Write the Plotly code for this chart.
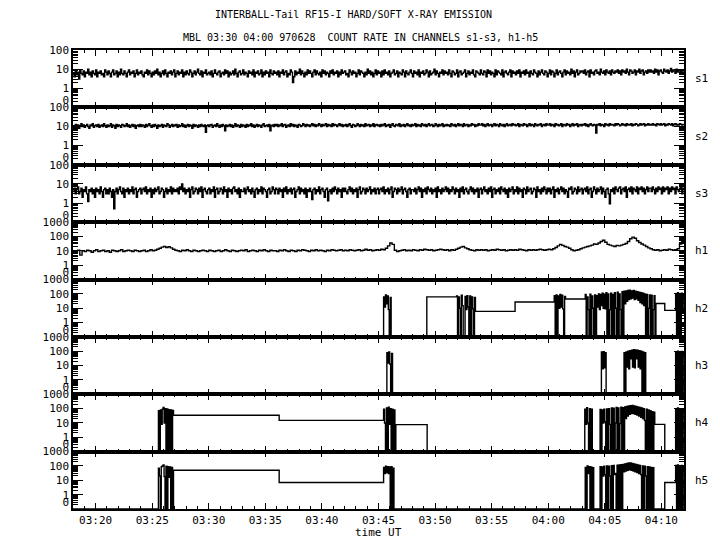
import numpy as np
import pandas as pd
import plotly.graph_objects as go
from plotly.subplots import make_subplots
from bisect import bisect_right

# ---------------- data (time in minutes after 03:00 UT, 1997-06-28) ----------------
T_START = 18.0
T_END = 72.0
SOFT_DT = 0.1          # cadence of s1-s3 samples (minutes)
H1_DT = 0.2            # cadence of h1 samples (minutes)
BURST_DT = 1.0 / 12.0  # cadence of samples inside h2-h5 bursts (minutes)

S1 = [6,4,8,5,7,3,9,6,5,8,4,7,6,10,5,7,4,8,6,5,9,4,7,6,8,5,6,4,9,7,
      5,8,6,4,7,9,5,6,8,4,7,5,10,6,5,8,6,4,7,9,5,7,6,8,4,6,9,5,7,6,
      8,5,4,7,6,9,5,8,6,4,7,5,8,6,10,5,7,4,6,8,5,9,6,4,7,6,8,5,7,9,
      4,6,8,5,7,6,9,4,7,5,8,6,5,9,7,4,6,8,5,7,10,6,5,8,4,7,6,9,5,6,
      7,5,8,4,6,9,6,5,7,8,4,6,7,5,9,6,8,4,7,5,6,8,5,10,6,4,7,8,5,6,
      9,5,7,6,4,8,6,7,5,9,4,7,6,8,5,6,9,4,7,5,8,6,7,4,9,6,5,8,6,7,
      5,8,4,7,6,9,5,7,8,4,6,5,9,7,2,4,8,5,7,6,10,5,8,6,4,7,5,9,6,8,
      6,4,7,9,5,8,6,5,7,4,9,6,8,5,7,6,4,8,6,9,5,7,6,8,4,7,5,9,6,7,
      8,5,6,4,9,7,5,8,6,7,4,6,9,5,8,7,6,4,7,5,10,6,8,5,7,4,6,9,5,8,
      6,7,4,8,5,9,6,7,5,8,4,6,7,9,5,6,8,4,7,6,5,9,7,4,8,6,5,7,9,6,
      4,8,6,7,5,9,4,7,6,8,5,6,9,7,4,8,5,6,7,10,5,8,6,4,7,6,9,5,8,6,
      7,5,9,6,4,8,7,5,6,9,4,7,8,5,6,7,9,4,6,8,5,7,6,9,5,4,8,7,6,5,
      9,6,5,8,7,4,9,6,8,5,7,6,4,9,5,8,7,6,5,9,4,7,8,6,5,7,9,4,8,6,
      7,5,8,6,9,4,7,6,8,5,9,6,7,4,8,6,5,9,7,6,4,8,5,7,9,6,5,8,7,4,
      6,9,5,8,7,4,6,9,5,7,8,6,4,7,9,5,8,6,7,5,10,6,8,4,7,9,5,6,8,7,
      8,6,9,5,7,8,4,9,6,7,5,8,9,6,7,5,10,7,6,8,5,9,7,6,8,5,9,7,6,8,
      7,9,6,8,5,9,7,8,6,10,7,5,9,8,6,7,9,5,8,7,10,6,8,9,5,7,8,6,9,7,
      9,7,8,6,10,7,9,5,8,9,7,6,10,8,7,9,6,8,11,7,9,8,6,10,7,9,8,6,9,8]

S2 = [11,9,13,10,12,8,11,14,10,12,9,11,13,10,8,12,11,14,9,11,12,10,13,9,11,12,10,14,11,9,
      12,10,11,14,9,12,11,8,13,10,12,11,9,13,12,10,11,14,10,12,9,11,13,10,12,8,11,12,10,13,
      10,12,11,9,13,10,12,14,11,9,12,10,13,11,8,12,10,11,13,9,12,11,10,14,12,9,11,13,10,12,
      11,13,9,12,10,11,14,10,12,9,11,13,10,12,11,8,13,10,12,11,9,12,10,13,11,10,12,5,11,12,
      10,12,13,9,11,12,10,14,11,9,12,10,13,11,6,12,10,11,13,10,12,9,11,14,10,12,11,9,13,10,
      12,11,9,13,10,12,11,14,10,12,9,11,13,10,12,11,9,12,14,10,11,12,10,13,6,11,12,10,13,11,
      13,10,12,11,14,10,12,13,9,11,12,10,14,11,13,10,12,11,9,13,12,10,11,14,12,10,13,11,12,10,
      12,14,11,13,10,12,11,14,12,10,13,11,12,14,10,13,11,12,10,14,11,13,12,10,12,14,11,13,10,12,
      11,13,10,12,14,11,9,13,12,10,11,14,12,10,13,11,12,10,14,11,12,13,10,12,11,14,10,12,13,11,
      12,10,13,11,12,14,10,12,11,13,9,12,14,11,10,13,12,11,14,10,12,11,13,10,12,14,11,12,10,13,
      11,12,14,10,13,11,12,10,14,12,11,13,10,12,14,11,12,13,10,11,14,12,10,13,11,12,14,10,12,11,
      13,11,12,10,14,12,11,13,10,12,14,11,13,12,10,14,11,12,13,10,12,11,14,12,13,10,12,11,14,12,
      12,14,11,13,10,12,14,11,12,13,10,12,14,11,13,12,10,14,12,11,13,10,12,14,11,12,13,11,14,12,
      13,11,12,14,10,13,12,11,14,12,13,10,12,14,11,13,12,10,14,12,11,13,12,14,10,12,13,11,14,12,
      12,14,11,13,12,10,14,12,13,11,12,14,10,13,12,11,14,12,13,10,12,14,11,13,12,14,10,12,13,11,
      13,12,14,11,13,10,12,14,12,11,13,12,4.5,13,12,14,11,13,12,10,14,12,13,11,14,12,13,12,11,14,
      12,14,13,11,12,14,12,13,11,14,12,13,12,14,11,13,12,14,13,11,12,14,12,13,14,11,13,12,14,12,
      13,12,14,12,13,11,14,13,12,14,12,13,14,11,13,12,14,13,12,14,11,13,14,12,13,12,14,13,12,13]

S3 = [4,6,3,5,7,3,4,6,2,5,4,7,3,1.2,5,4,6,3,5,2,6,4,5,3,7,4,2,5,6,3,
      5,3,6,4,2,5,0.5,4,6,3,5,7,4,3,6,2,5,4,6,3,5,4,7,3,5,6,2,4,5,6,
      3,5,6,4,7,3,5,4,6,2,5,3,6,4,5,7,3,4,6,5,2,4,6,3,5,4,7,3,6,4,
      5,4,6,3,7,5,10,4,6,3,5,4,6,2,5,7,3,4,6,5,3,6,4,7,2,5,6,4,3,5,
      6,3,5,4,7,2,5,6,3,4,6,5,3,7,4,5,2,6,4,5,3,6,7,4,5,3,6,2,5,4,
      4,6,3,5,7,4,5,3,6,4,2,5,6,3,5,4,7,3,6,5,4,2,5,6,3,4,7,5,3,6,
      5,3,6,4,5,2,6,4,7,3,5,4,6,3,5,6,2,4,5,7,3,6,4,5,3,6,2,5,4,6,
      4,1.5,5,6,3,5,4,7,3,5,6,4,2,5,6,1.3,4,5,3,6,4,7,5,3,6,4,5,2,6,4,
      6,4,3,5,7,4,6,3,5,4,6,2,5,7,3,4,6,5,3,6,4,5,7,3,5,4,6,3,5,6,
      3,5,6,4,7,3,5,4,6,3,5,7,2,4,6,5,3,6,4,5,7,3,5,6,4,2,5,6,3,5,
      5,4,6,3,5,7,4,6,2,5,4,6,3,7,5,4,6,3,5,4,6,2,7,4,5,3,6,4,5,7,
      4,6,3,5,4,7,5,3,6,4,5,2,6,4,7,3,5,6,4,3,5,7,4,6,3,5,4,6,2,5,
      6,3,5,7,4,5,3,6,4,7,2,5,6,3,5,4,6,3,7,5,4,6,3,5,2,6,4,5,7,3,
      5,4,7,3,6,4,5,2,6,5,3,7,4,5,6,3,4,6,5,2,7,4,5,3,6,4,7,5,3,6,
      4,6,3,5,7,2,5,4,6,3,5,7,4,6,3,5,4,2,6,5,7,3,4,6,5,3,7,4,5,6,
      3,5,6,4,7,3,5,6,2,4,7,5,3,6,4,5,7,3,6,4,2,5,6,3,0.9,5,4,6,3,7,
      5,4,6,7,3,5,6,4,7,2,5,6,4,7,3,6,5,4,7,3,6,5,7,4,6,3,5,7,4,6,
      6,4,7,5,3,6,4,7,5,6,3,7,4,6,5,7,3,6,4,7,5,6,3,7,5,4,6,7,3,6]

H1 = [10,9,11,5,10,9,11,10,8,10,12,9,10,11,9,10,8,11,10,9,10,12,9,10,11,10,9,11,10,9,
      10,11,9,10,12,10,11,13,15,18,20,17,19,16,13,11,10,9,11,10,12,10,9,11,10,9,10,11,10,9,
      11,10,9,10,11,9,10,12,10,9,11,10,9,10,11,10,12,9,10,11,10,9,11,10,12,10,9,11,10,10,
      9,11,10,12,10,9,11,10,9,11,10,12,11,10,9,11,10,12,10,11,10,9,11,10,12,11,10,11,12,10,
      11,10,12,11,10,11,12,10,11,13,11,12,10,11,12,11,13,12,15,22,35,28,11,9,10,11,12,10,11,10,
      12,11,10,12,11,13,12,11,12,10,11,12,13,12,11,12,10,12,11,13,15,18,20,16,14,12,11,10,12,11,
      12,11,12,10,11,12,11,13,12,11,12,10,11,12,11,12,11,13,12,11,10,12,11,12,11,12,13,12,11,12,
      13,12,14,17,22,28,24,20,18,15,12,10,11,12,14,16,18,20,22,25,30,28,35,45,55,40,28,25,22,20,
      24,22,25,28,32,45,70,90,75,50,38,30,25,20,16,14,12,11,12,10,11,12,11,13,12,11,12,14,30,45]

# h2..h5: step levels (start minute, value) and bursts (start minute, samples)
H2_LEVEL_T = [18.0, 49.27, 53.56, 57.07, 61.5, 69.5, 70.3]
H2_LEVEL_V = [0, 61, 6, 27, 44, 21, 7]
H2_BURST_T0 = [45.45, 51.9, 60.53, 63.27, 71.26]
H2_B1 = [60, 12, 85, 20, 70, 8, 0, 55, 0]
H2_B2 = [70, 0, 60, 10, 0, 80, 15, 0, 0, 65, 8, 75, 12, 0, 70, 0, 60, 9, 0, 55]
H2_B3 = [75, 0, 85, 0, 70, 10, 90, 12, 80, 9, 0, 65]
H2_B4 = [90, 0, 60, 8, 0, 95, 0, 70, 10, 0, 85, 0, 75,
         12, 100, 8, 90, 15, 110, 10, 95, 9, 120,
         0, 100, 0, 8, 110, 0, 90, 0, 120, 10, 0, 130, 0, 100, 8, 0, 140, 0,
         150, 20, 160, 30, 170, 40, 180, 45, 160, 50, 170, 40, 150, 45, 140, 35, 130, 25, 120, 20, 110, 15, 100,
         0, 90, 0, 10, 85, 0, 80, 0, 8, 75, 0]
H2_B5 = [100, 0, 120, 0, 90, 0, 110, 5, 80]

H3_LEVEL_T = [18.0]
H3_LEVEL_V = [0]
H3_BURST_T0 = [45.74, 64.7, 66.7, 71.26]
H3_B1 = [80, 15, 90, 13, 0, 70]
H3_B2 = [88, 6, 92, 7, 80, 0]
H3_B3 = [80, 0, 90, 8, 100, 6, 110, 30, 120, 8, 130, 7, 125, 30, 120, 8, 110, 6, 100, 0, 90, 0, 80]
H3_B4 = [90, 0, 100, 0, 80, 0, 95, 0, 85]

H4_LEVEL_T = [18.0, 26.87, 36.22, 46.5, 49.3, 69.4, 70.3]
H4_LEVEL_V = [0, 34, 15, 7.6, 0, 8, 0]
H4_BURST_T0 = [25.55, 45.45, 63.23, 64.5, 71.26]
H4_B1 = [70, 0, 80, 8, 90, 120, 10, 100, 0, 95, 0, 85, 0, 80, 0, 75]
H4_B2 = [90, 10, 0, 110, 0, 127, 8, 100, 0, 90, 0, 80, 0]
H4_B3 = [90, 8, 115, 10, 0, 100, 0, 90, 0]
H4_B4 = [0, 88, 0, 80, 10, 90, 12,
         0, 95, 0, 100, 8, 0, 110, 0, 105, 0, 10, 120, 0, 110, 0, 9, 125, 0, 115, 0,
         130, 20, 140, 30, 150, 40, 160, 45, 165, 45, 150, 40, 140, 35, 130, 30, 120, 25, 110, 20, 100, 15,
         0, 90, 0, 80, 0, 70, 0, 60, 0, 55]
H4_B5 = [100, 0, 110, 0, 90, 0, 100, 0, 80]

H5_LEVEL_T = [18.0, 26.87, 36.22, 46.36, 70.3]
H5_LEVEL_V = [0, 50, 7, 0, 7]
H5_BURST_T0 = [25.55, 45.45, 63.27, 64.5, 71.26]
H5_B1 = [70, 20, 0, 90, 100, 120, 18, 0, 95, 0, 90, 16, 85, 0, 80, 0]
H5_B2 = [80, 30, 95, 35, 90, 30, 85, 0, 90, 0, 70]
H5_B3 = [80, 0, 100, 30, 90, 0, 85, 0, 75]
H5_B4 = [0, 90, 0, 85, 20, 95, 25,
         0, 100, 0, 95, 20, 0, 105, 0, 110, 25, 30, 0, 115, 0, 120, 0, 125, 0,
         130, 40, 140, 45, 150, 50, 160, 55, 160, 50, 150, 45, 140, 40, 130, 35, 120, 30, 110, 25,
         0, 100, 0, 95, 20, 0, 90, 0, 85, 0, 80, 0, 75, 0]
H5_B5 = [110, 0, 120, 0, 100, 0, 110, 0, 90]

CHANNELS = ["s1", "s2", "s3", "h1", "h2", "h3", "h4", "h5"]
MAX_DECADE = [2, 2, 2, 3, 3, 3, 3, 3]

TITLE1 = "INTERBALL-Tail RF15-I HARD/SOFT X-RAY EMISSION"
TITLE2 = "MBL 03:30 04:00 970628 \u00a0COUNT RATE IN CHANNELS s1-s3, h1-h5"
XTITLE = "time UT"

# ---------------- build series ----------------
BASE = pd.Timestamp("1997-06-28 03:00:00")


def to_time(minutes):
    m = np.atleast_1d(np.asarray(minutes, dtype=float))
    return [(BASE + pd.Timedelta(minutes=float(x))).strftime("%Y-%m-%d %H:%M:%S.%f") for x in m]


def uniform_series(vals, dt):
    t = list(T_START + dt * np.arange(len(vals)))
    v = list(vals)
    t.append(T_END)
    v.append(vals[-1])
    return t, v


def burst_series(level_t, level_v, starts, bursts):
    def level_at(t):
        return level_v[bisect_right(level_t, t + 1e-9) - 1]

    spans, pts = [], []
    for t0, vals in zip(starts, bursts):
        t1 = t0 + len(vals) * BURST_DT
        spans.append((t0, t1))
        pts += [(t0 + i * BURST_DT, v) for i, v in enumerate(vals)]
        if t1 < T_END:
            pts.append((t1, level_at(t1)))
    for t, v in zip(level_t, level_v):
        if not any(a <= t < b for a, b in spans):
            pts.append((t, v))
    pts.sort(key=lambda p: p[0])
    pts.append((T_END, pts[-1][1]))
    return [p[0] for p in pts], [p[1] for p in pts]


series = [
    uniform_series(S1, SOFT_DT),
    uniform_series(S2, SOFT_DT),
    uniform_series(S3, SOFT_DT),
    uniform_series(H1, H1_DT),
    burst_series(H2_LEVEL_T, H2_LEVEL_V, H2_BURST_T0, [H2_B1, H2_B2, H2_B3, H2_B4, H2_B5]),
    burst_series(H3_LEVEL_T, H3_LEVEL_V, H3_BURST_T0, [H3_B1, H3_B2, H3_B3, H3_B4]),
    burst_series(H4_LEVEL_T, H4_LEVEL_V, H4_BURST_T0, [H4_B1, H4_B2, H4_B3, H4_B4, H4_B5]),
    burst_series(H5_LEVEL_T, H5_LEVEL_V, H5_BURST_T0, [H5_B1, H5_B2, H5_B3, H5_B4, H5_B5]),
]

# ---------------- figure ----------------
FONT = "DejaVu Sans Mono"
fig = make_subplots(rows=8, cols=1, shared_xaxes=True, vertical_spacing=0)
X_RANGE = [to_time(T_START)[0], to_time(T_END)[0]]
TICK0 = to_time(0)[0]

for r, ((t, v), name, top) in enumerate(zip(series, CHANNELS, MAX_DECADE), start=1):
    y = np.where(np.asarray(v, dtype=float) <= 0, 0.1, v)  # "0" is drawn one decade below 1
    fig.add_trace(go.Scatter(x=to_time(t), y=y, mode="lines", line_shape="hv",
                             line=dict(color="black", width=1.4), showlegend=False,
                             hoverinfo="skip"), row=r, col=1)
    tickvals = [10.0 ** d for d in range(-1, top + 1)]
    ticktext = ["0<br>\u00a0"] + [str(int(round(10 ** d))) for d in range(0, top + 1)]
    minor_vals = [k * 10.0 ** d for d in range(-1, top) for k in range(2, 10)]
    fig.update_yaxes(type="log", range=[-1, top], tickmode="array", tickvals=tickvals,
                     ticktext=ticktext, ticks="inside", ticklen=10, tickwidth=1.3,
                     tickcolor="black", showline=True, linecolor="black", linewidth=1.5,
                     mirror="allticks", showgrid=False, zeroline=False, automargin=False,
                     minor=dict(tickmode="array", tickvals=minor_vals, ticks="inside",
                                ticklen=5, tickwidth=1, tickcolor="black", showgrid=False),
                     tickfont=dict(family=FONT, size=11, color="black"),
                     row=r, col=1)
    fig.update_xaxes(type="date", range=X_RANGE,
                     tick0=TICK0, dtick=5 * 60 * 1000, tickformat="%H:%M",
                     ticks="inside", ticklen=6, tickwidth=1.3, tickcolor="black",
                     showline=True, linecolor="black", linewidth=1.5, mirror="allticks",
                     showgrid=False, zeroline=False, showticklabels=(r == 8), automargin=False,
                     minor=dict(dtick=60 * 1000, ticks="inside", ticklen=3, tickwidth=1,
                                tickcolor="black", showgrid=False),
                     tickfont=dict(family=FONT, size=11, color="black"),
                     row=r, col=1)
    yref = "y domain" if r == 1 else f"y{r} domain"
    fig.add_annotation(x=1, xref="paper", y=0.5, yref=yref, xanchor="left",
                       xshift=9, text=name, showarrow=False,
                       font=dict(family=FONT, size=11, color="black"))

fig.add_annotation(x=0.5, xref="paper", y=1.078, yref="paper", text=TITLE1, showarrow=False,
                   xanchor="center", yanchor="middle", xshift=-25,
                   font=dict(family=FONT, size=10, color="black"))
fig.add_annotation(x=0.5, xref="paper", y=1.028, yref="paper", text=TITLE2, showarrow=False,
                   xanchor="center", yanchor="middle", xshift=-18,
                   font=dict(family=FONT, size=10, color="black"))
fig.add_annotation(x=0.5, xref="paper", y=-0.052, yref="paper", text=XTITLE, showarrow=False,
                   xanchor="center", yanchor="middle",
                   font=dict(family=FONT, size=11, color="black"))

# the page adds an 8 px body margin, so the figure is sized and offset to compensate
fig.update_layout(width=712, height=542, margin=dict(l=65, r=36, t=42, b=41),
                  plot_bgcolor="white", paper_bgcolor="white", showlegend=False)

fig.write_html("out.html")
